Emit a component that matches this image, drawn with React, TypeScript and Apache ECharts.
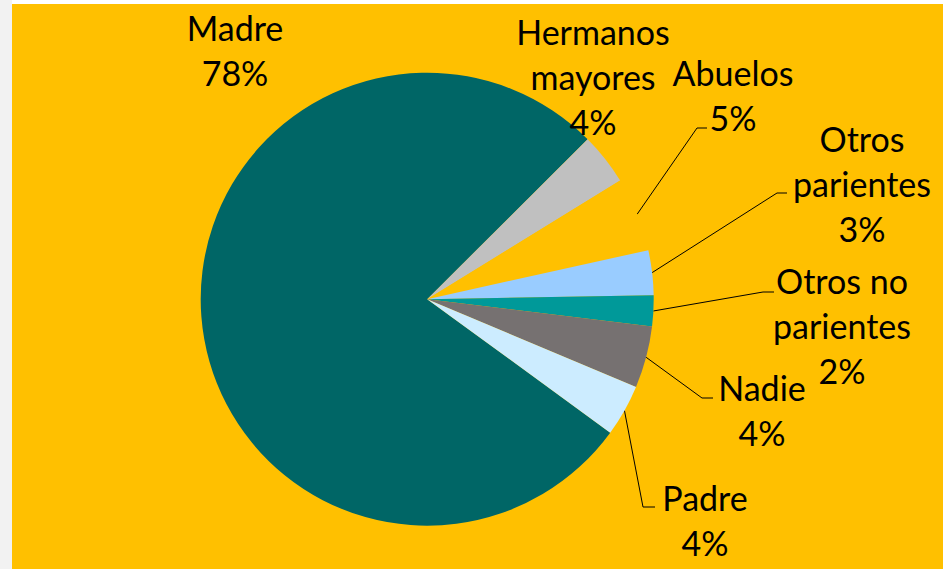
import React, { useEffect, useRef } from "react";
import * as echarts from "echarts";

const categories = [
  "Madre",
  "Hermanos\nmayores",
  "Abuelos",
  "Otros\nparientes",
  "Otros no\nparientes",
  "Nadie",
  "Padre",
];
const values = [77.5, 3.7, 5.3, 3.2, 2.2, 4.4, 3.7];
const colors = ["#006666", "#C0C0C0", "#FFC000", "#99CCFF", "#009999", "#767171", "#CCECFF"];
const showLeader = [false, false, true, true, true, true, true];

// label block centres (chart coords) and leader elbows/ends
const labelPos: [number, number][] = [
  [223, 46],
  [581, 72],
  [721, 91],
  [850, 179],
  [830, 321],
  [750, 406],
  [693, 516],
];
const leaderPts: ([number, number][] | null)[] = [
  null,
  null,
  [[685, 124], [695, 124]],
  [[765, 189], [775, 189]],
  [[751, 288], [762, 288]],
  [[690, 394], [701, 394]],
  [[631, 503], [643, 503]],
];

export default function App() {
  const ref = useRef<HTMLDivElement>(null);
  useEffect(() => {
    if (!ref.current) return;
    const chart = echarts.init(ref.current, undefined, { renderer: "svg" });
    chart.setOption({
      animation: false,
      backgroundColor: "#FFC000",
      series: [
        {
          type: "pie",
          center: [415.2, 295.2],
          radius: 226.5,
          startAngle: 323.9,
          clockwise: true,
          percentPrecision: 0,
          avoidLabelOverlap: false,
          itemStyle: { borderWidth: 0 },
          emphasis: { disabled: true },
          label: {
            show: true,
            position: "outside",
            formatter: "{b}\n{d}%",
            fontFamily: "Lato",
            fontSize: 34,
            lineHeight: 45,
            color: "#000",
            align: "center",
          },
          labelLine: {
            show: true,
            length: 10,
            length2: 10,
            lineStyle: { color: "#000", width: 1 },
          },
          labelLayout: (params: any) => {
            const i = params.dataIndex;
            const [x, y] = labelPos[i];
            const res: any = { x, y, align: "center", verticalAlign: "middle" };
            const lp = leaderPts[i];
            if (lp && params.labelLinePoints) {
              res.labelLinePoints = [params.labelLinePoints[0], lp[0], lp[1]];
            }
            return res;
          },
          data: categories.map((name, i) => ({
            name,
            value: values[i],
            itemStyle: { color: colors[i] },
            labelLine: { show: showLeader[i] },
          })),
        },
      ],
    });
    return () => chart.dispose();
  }, []);
  return (
    <div style={{ position: "fixed", left: 0, top: 0, width: 943, height: 569, background: "#FFFFFF", overflow: "hidden" }}>
      <div style={{ position: "absolute", left: 0, top: 0, width: 12, height: 569, background: "#F2F2F2" }} />
      <div ref={ref} style={{ position: "absolute", left: 12, top: 4, width: 931, height: 565 }} />
    </div>
  );
}
